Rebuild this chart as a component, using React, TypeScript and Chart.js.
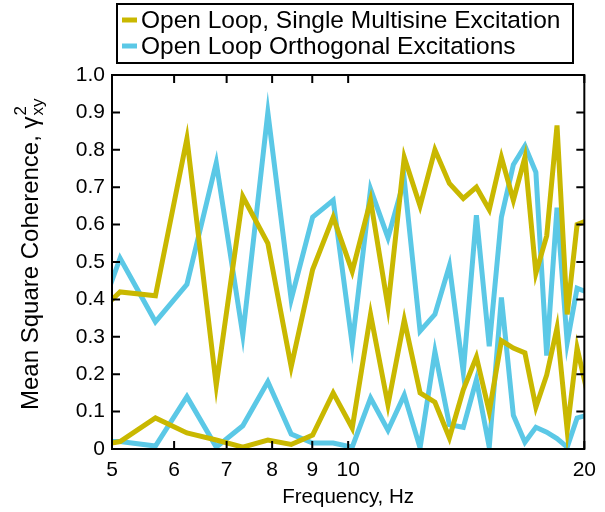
import React, { useEffect, useRef } from 'react';
import { Chart, registerables } from 'chart.js';

Chart.register(...registerables);

// Frequency grid (Hz); first and last points fall just outside the 5–20 Hz axis and are clipped
const frequencies = [4.56, 5.12, 5.68, 6.23, 6.79, 7.34, 7.9, 8.46, 9.01, 9.57, 10.12, 10.68, 11.24, 11.79, 12.35, 12.9, 13.46, 14.02, 14.57, 15.13, 15.68, 16.24, 16.8, 17.35, 17.91, 18.46, 19.02, 19.58, 20.13];

// Open Loop, Single Multisine Excitation (two coherence curves)
const singleUpper = [0.32, 0.42, 0.41, 0.83, 0.17, 0.675, 0.55, 0.22, 0.48, 0.62, 0.475, 0.665, 0.38, 0.78, 0.65, 0.8, 0.71, 0.67, 0.7, 0.64, 0.78, 0.665, 0.78, 0.47, 0.57, 0.865, 0.36, 0.6, 0.61];
const singleLower = [0.0, 0.02, 0.083, 0.043, 0.024, 0.005, 0.024, 0.012, 0.037, 0.15, 0.056, 0.36, 0.118, 0.345, 0.15, 0.125, 0.03, 0.158, 0.246, 0.1, 0.29, 0.27, 0.257, 0.112, 0.198, 0.324, 0.05, 0.27, 0.16];

// Open Loop Orthogonal Excitations (two coherence curves)
const orthoUpper = [0.22, 0.51, 0.34, 0.44, 0.765, 0.305, 0.9, 0.4, 0.62, 0.665, 0.28, 0.695, 0.565, 0.72, 0.315, 0.36, 0.49, 0.205, 0.625, 0.275, 0.62, 0.76, 0.81, 0.74, 0.25, 0.645, 0.285, 0.43, 0.42];
const orthoLower = [0.02, 0.02, 0.008, 0.14, 0.005, 0.062, 0.18, 0.04, 0.016, 0.016, 0.005, 0.136, 0.05, 0.144, 0.003, 0.26, 0.065, 0.058, 0.185, 0.005, 0.405, 0.09, 0.018, 0.058, 0.045, 0.028, 0.005, 0.083, 0.09];

const xTickValues = [5, 6, 7, 8, 9, 10, 20];
const yTickValues = [0, 0.1, 0.2, 0.3, 0.4, 0.5, 0.6, 0.7, 0.8, 0.9, 1.0];
const legendLabels = ['Open Loop, Single Multisine Excitation', 'Open Loop Orthogonal Excitations'];
const xTitle = 'Frequency, Hz';
const yTitleMain = 'Mean Square Coherence, \u03B3';
const yTitleSup = '2';
const yTitleSub = 'xy';

const YELLOW = '#C9B800';
const CYAN = '#5BC8E6';
const FONT = '"Liberation Sans", Arial, Helvetica, sans-serif';

export default function App() {
  const ref = useRef<HTMLCanvasElement>(null);

  useEffect(() => {
    const canvas = ref.current;
    if (!canvas) return;
    const toPts = (vals: number[]) => frequencies.map((f, i) => ({ x: f, y: vals[i] }));

    const decor = {
      id: 'decor',
      afterDatasetsDraw(chart: any) {
        const { ctx, chartArea: a, scales } = chart;
        ctx.save();
        ctx.strokeStyle = '#000';
        ctx.lineWidth = 2;
        ctx.beginPath();
        for (const v of xTickValues) {
          const px = scales.x.getPixelForValue(v);
          ctx.moveTo(px, a.bottom);
          ctx.lineTo(px, a.bottom - 8);
          ctx.moveTo(px, a.top);
          ctx.lineTo(px, a.top + 8);
        }
        for (const v of yTickValues) {
          const py = scales.y.getPixelForValue(v);
          ctx.moveTo(a.left, py);
          ctx.lineTo(a.left + 8, py);
          ctx.moveTo(a.right, py);
          ctx.lineTo(a.right - 8, py);
        }
        ctx.stroke();
        ctx.strokeRect(a.left, a.top, a.right - a.left, a.bottom - a.top);
        ctx.restore();
      },
      afterDraw(chart: any) {
        const { ctx, chartArea: a } = chart;
        ctx.save();
        // Legend
        ctx.strokeStyle = '#000';
        ctx.lineWidth = 2;
        ctx.strokeRect(117, 4, 456, 59);
        const legendColors = [YELLOW, CYAN];
        const rows = [20, 46];
        ctx.font = `24.5px ${FONT}`;
        ctx.textBaseline = 'middle';
        ctx.textAlign = 'left';
        legendLabels.forEach((label, i) => {
          ctx.strokeStyle = legendColors[i];
          ctx.lineWidth = 5;
          ctx.beginPath();
          ctx.moveTo(122, rows[i]);
          ctx.lineTo(137, rows[i]);
          ctx.stroke();
          ctx.fillStyle = '#000';
          ctx.fillText(label, 141, rows[i] + 1);
        });
        // X title
        ctx.font = `20.5px ${FONT}`;
        ctx.textAlign = 'center';
        ctx.textBaseline = 'alphabetic';
        ctx.fillText(xTitle, (a.left + a.right) / 2, 503);
        // Y title with super/subscript
        ctx.translate(38, 0);
        ctx.rotate(-Math.PI / 2);
        ctx.textAlign = 'left';
        ctx.font = `24px ${FONT}`;
        const wMain = ctx.measureText(yTitleMain).width;
        const start = -410;
        ctx.fillText(yTitleMain, start, 0);
        ctx.font = `17px ${FONT}`;
        ctx.fillText(yTitleSup, start + wMain + 1, -12);
        ctx.fillText(yTitleSub, start + wMain + 1, 5);
        ctx.restore();
      },
    };

    const lineStyle = (color: string) => ({
      borderColor: color,
      backgroundColor: color,
      borderWidth: 5,
      pointRadius: 0,
      tension: 0,
      fill: false,
      borderJoinStyle: 'miter' as const,
    });

    const chart = new Chart(canvas, {
      type: 'line',
      data: {
        datasets: [
          { label: legendLabels[0], data: toPts(singleUpper), ...lineStyle(YELLOW) },
          { label: legendLabels[0] + ' ', data: toPts(singleLower), ...lineStyle(YELLOW) },
          { label: legendLabels[1], data: toPts(orthoUpper), ...lineStyle(CYAN) },
          { label: legendLabels[1] + ' ', data: toPts(orthoLower), ...lineStyle(CYAN) },
        ],
      },
      options: {
        animation: false,
        responsive: false,
        layout: { padding: { left: 0, right: 20, top: 75, bottom: 0 } },
        plugins: { legend: { display: false }, tooltip: { enabled: false } },
        scales: {
          x: {
            type: 'logarithmic',
            min: 5,
            max: 20,
            afterBuildTicks: (s: any) => {
              s.ticks = xTickValues.map((v) => ({ value: v }));
            },
            afterFit: (s: any) => {
              s.height = 63;
            },
            grid: { display: false, drawTicks: false },
            border: { display: false },
            ticks: {
              autoSkip: false,
              maxRotation: 0,
              padding: 9,
              color: '#000',
              font: { family: FONT, size: 21 },
              callback: (v: any) => String(v),
            },
          },
          y: {
            min: 0,
            max: 1,
            afterBuildTicks: (s: any) => {
              s.ticks = yTickValues.map((v) => ({ value: v }));
            },
            afterFit: (s: any) => {
              s.width = 112;
            },
            grid: { display: false, drawTicks: false },
            border: { display: false },
            ticks: {
              autoSkip: false,
              padding: 7,
              color: '#000',
              font: { family: FONT, size: 21 },
              callback: (v: any) => (v === 0 ? '0' : Number(v).toFixed(1)),
            },
          },
        },
      },
      plugins: [decor],
    });
    return () => chart.destroy();
  }, []);

  return (
    <div style={{ position: 'absolute', left: 0, top: 0 }}>
      <canvas ref={ref} width={605} height={512} style={{ width: 605, height: 512, display: 'block' }} />
    </div>
  );
}
